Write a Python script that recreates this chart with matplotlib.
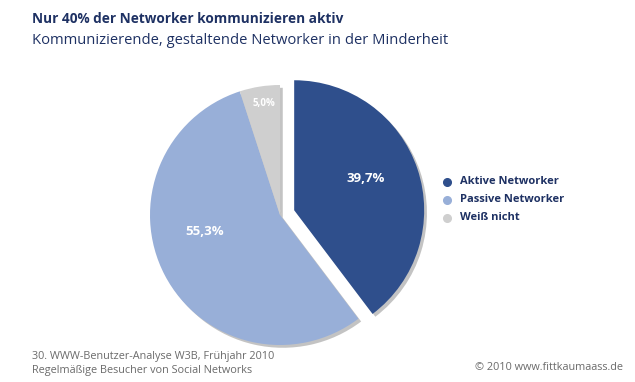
import matplotlib.pyplot as plt
import matplotlib.patheffects as pe
from matplotlib.lines import Line2D

# data
categories = ['Aktive Networker', 'Passive Networker', 'Weiß nicht']
shares = [39.7, 55.3, 5.0]
share_labels = ['39,7%', '55,3%', '5,0%']
colors = ['#2f4f8c', '#98afd8', '#cfcfcf']

navy = '#1e3163'
plt.rcParams['font.family'] = ['Open Sans', 'DejaVu Sans']

fig = plt.figure(figsize=(6.35, 3.82), dpi=100)

# titles
fig.text(32 / 635, 1 - 19 / 382, 'Nur 40% der Networker kommunizieren aktiv',
         fontsize=9.8, fontweight='bold', color=navy, va='center', ha='left')
fig.text(32 / 635, 1 - 40 / 382, 'Kommunizierende, gestaltende Networker in der Minderheit',
         fontsize=10.6, color=navy, va='center', ha='left')

# pie, centre at about (280, 215) px, radius 130 px
cx, cy, r = 280, 215, 130
ax = fig.add_axes([(cx - r) / 635, (382 - cy - r) / 382, 2 * r / 635, 2 * r / 382])
shadow = [pe.SimplePatchShadow(offset=(2, -2), shadow_rgbFace='#555555', alpha=0.35), pe.Normal()]
wedges, _ = ax.pie(shares, colors=colors, startangle=90, counterclock=False,
                   explode=[0.115, 0, 0], radius=1.0,
                   wedgeprops=dict(linewidth=0))
for w in wedges:
    w.set_path_effects(shadow)
ax.set_xlim(-1, 1)
ax.set_ylim(-1, 1)
ax.set_aspect('equal')
ax.axis('off')

# value labels inside slices
label_pos = [(0.66, 0.28), (-0.58, -0.13), (-0.12, 0.86)]
label_size = [9.5, 9.5, 7]
for (x, y), txt, fs in zip(label_pos, share_labels, label_size):
    ax.text(x, y, txt, color='white', fontsize=fs, fontweight='bold',
            ha='center', va='center')

# legend
for i, (cat, col) in enumerate(zip(categories, colors)):
    ypx = 182 + i * 18
    fig.add_artist(Line2D([447 / 635], [1 - ypx / 382], marker='o', markersize=5.5,
                          color=col, linestyle='none', transform=fig.transFigure))
    fig.text(460 / 635, 1 - ypx / 382, cat, fontsize=8, fontweight='bold',
             color=navy, va='center', ha='left')

# footer
fig.text(32 / 635, 1 - 356 / 382, '30. WWW-Benutzer-Analyse W3B, Frühjahr 2010',
         fontsize=7.8, color='#6b6b6b', va='center', ha='left')
fig.text(32 / 635, 1 - 370 / 382, 'Regelmäßige Besucher von Social Networks',
         fontsize=7.8, color='#6b6b6b', va='center', ha='left')
fig.text(623 / 635, 1 - 367 / 382, '© 2010 www.fittkaumaass.de',
         fontsize=7.8, color='#6b6b6b', va='center', ha='right')

fig.savefig('out.png', dpi=100, facecolor='white')
